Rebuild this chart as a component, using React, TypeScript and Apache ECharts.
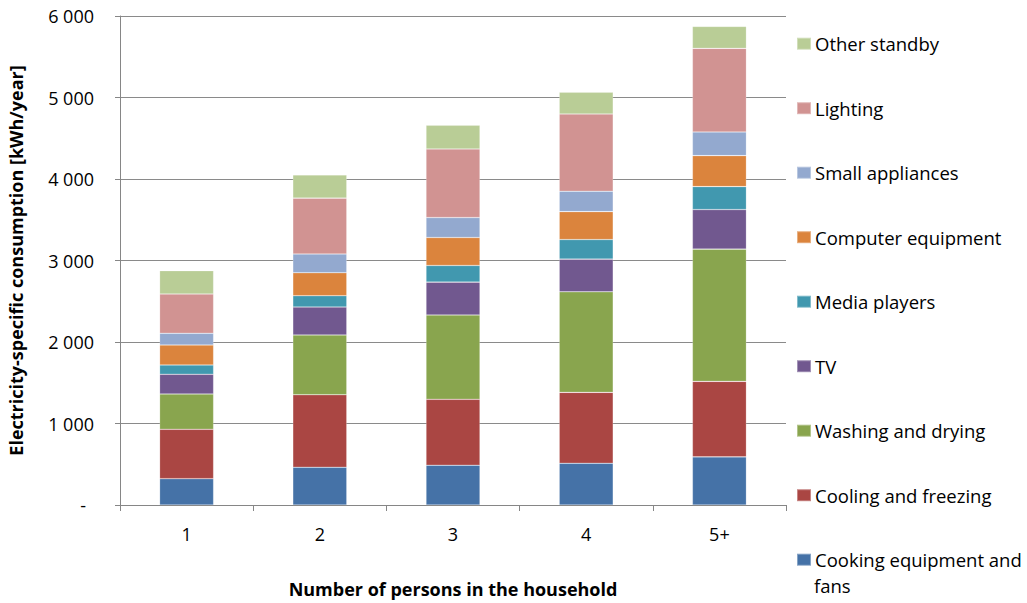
import React, { useEffect, useRef } from "react";
import * as echarts from "echarts";

const categories = ["1", "2", "3", "4", "5+"];
const seriesNames = [
  "Cooking equipment and fans",
  "Cooling and freezing",
  "Washing and drying",
  "TV",
  "Media players",
  "Computer equipment",
  "Small appliances",
  "Lighting",
  "Other standby",
];
const cooking = [323, 463, 488, 512, 591];
const cooling = [606, 890, 809, 870, 926];
const washing = [433, 733, 1034, 1234, 1623];
const tv = [242, 343, 404, 401, 485];
const media = [114, 139, 204, 240, 282];
const computer = [245, 282, 343, 343, 380];
const small = [144, 230, 245, 250, 290];
const lighting = [482, 685, 842, 948, 1026];
const standby = [286, 285, 290, 266, 269];
const seriesValues = [cooking, cooling, washing, tv, media, computer, small, lighting, standby];
const colors = ["#4572A7", "#AA4643", "#89A54E", "#71588F", "#4198AF", "#DB843D", "#93A9CF", "#D19392", "#B9CD96"];
const yTicks = [0, 1000, 2000, 3000, 4000, 5000, 6000];

const FONT = "Open Sans";

export default function App() {
  const ref = useRef<HTMLDivElement>(null);
  useEffect(() => {
    const chart = echarts.init(ref.current!, undefined, { renderer: "svg" });
    const fmt = (v: number) => (v === 0 ? "{d|-}" : String(v).replace(/\B(?=(\d{3})+(?!\d))/g, " "));
    chart.setOption({
      animation: false,
      backgroundColor: "#ffffff",
      textStyle: { fontFamily: FONT },
      grid: { left: 120, right: 241, top: 16, bottom: 98, containLabel: false, outerBoundsMode: "none" },
      xAxis: {
        type: "category",
        data: categories,
        name: "Number of persons in the household",
        nameLocation: "middle",
        nameGap: 75,
        nameTextStyle: { fontFamily: FONT, fontWeight: "bold", fontSize: 18, color: "#000" },
        axisLine: { lineStyle: { color: "#868686", width: 1 } },
        axisTick: { show: true, length: 6, lineStyle: { color: "#868686" } },
        axisLabel: { fontFamily: FONT, fontSize: 18, color: "#000", margin: 20 },
      },
      yAxis: {
        type: "value",
        min: yTicks[0],
        max: yTicks[yTicks.length - 1],
        interval: 1000,
        name: "Electricity-specific consumption [kWh/year]",
        nameLocation: "middle",
        nameGap: 95,
        nameTextStyle: { fontFamily: FONT, fontWeight: "bold", fontSize: 18, color: "#000" },
        axisLine: { show: true, lineStyle: { color: "#868686", width: 1 } },
        axisTick: { show: true, length: 5, lineStyle: { color: "#868686" } },
        axisLabel: {
          fontFamily: FONT,
          fontSize: 18,
          color: "#000",
          margin: 26,
          formatter: fmt,
          rich: { d: { fontFamily: FONT, fontSize: 18, color: "#000", padding: [0, 8, 0, 0] } },
        },
        splitLine: { lineStyle: { color: "#8a8a8a", width: 1 } },
      },
      legend: {
        orient: "vertical",
        left: 791,
        top: 27.7,
        data: [...seriesNames].reverse(),
        itemWidth: 14,
        itemHeight: 12,
        itemGap: 42.5,
        icon: "rect",
        formatter: (n: string) => (n === "Cooking equipment and fans" ? "Cooking equipment and" : n),
        textStyle: { fontFamily: FONT, fontSize: 18.5, color: "#000", lineHeight: 22, padding: [0, 0, 0, -1] },
      },
      graphic: [
        {
          type: "text",
          x: 814,
          y: 585,
          style: { text: "fans", fontFamily: FONT, fontSize: 18.5, fill: "#000", verticalAlign: "middle" },
        },
      ],
      series: seriesNames.map((name, i) => ({
        name,
        type: "bar",
        stack: "total",
        data: seriesValues[i],
        barWidth: 54,
        itemStyle: { color: colors[i], borderColor: "rgba(255,255,255,0.35)", borderWidth: 0.6 },
      })),
    });
    return () => chart.dispose();
  }, []);
  return <div ref={ref} style={{ width: 1027, height: 603, position: "absolute", left: 0, top: 0 }} />;
}
